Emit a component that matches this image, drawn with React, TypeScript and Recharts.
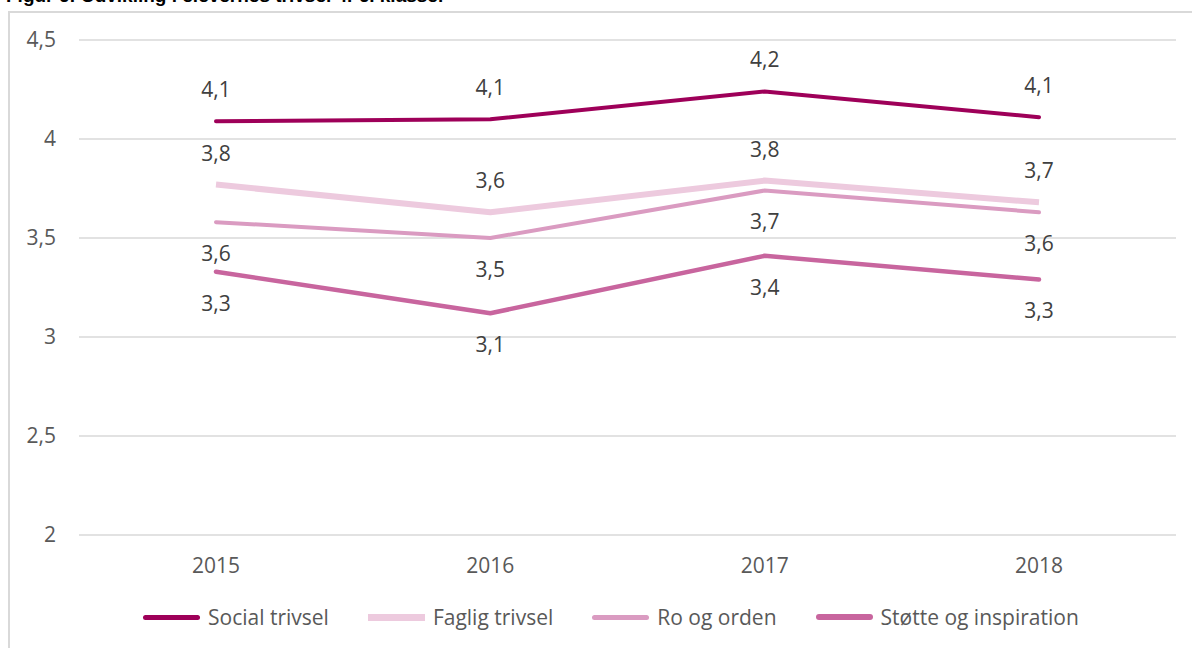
import React from 'react';
import { LineChart, Line, XAxis, YAxis, CartesianGrid, LabelList } from 'recharts';

const years = ['2015', '2016', '2017', '2018'];
const socialTrivsel = [4.09, 4.1, 4.24, 4.11];
const fagligTrivsel = [3.77, 3.63, 3.79, 3.68];
const roOgOrden = [3.58, 3.5, 3.74, 3.63];
const stotteOgInspiration = [3.33, 3.12, 3.41, 3.29];
const yTicks = [2, 2.5, 3, 3.5, 4, 4.5];

const FONT = '"Open Sans", "Noto Sans", sans-serif';

const series = [
  { key: 'social', name: 'Social trivsel', values: socialTrivsel, color: '#9E0059', width: 4, cap: 'round', label: 'top' },
  { key: 'faglig', name: 'Faglig trivsel', values: fagligTrivsel, color: '#EDCADE', width: 6, cap: 'butt', label: 'top' },
  { key: 'ro', name: 'Ro og orden', values: roOgOrden, color: '#DA9BC1', width: 4, cap: 'round', label: 'bottom' },
  { key: 'stotte', name: 'Støtte og inspiration', values: stotteOgInspiration, color: '#C8659E', width: 4.5, cap: 'round', label: 'bottom' },
];

const data = years.map((year, i) => {
  const row: Record<string, string | number> = { year };
  series.forEach(s => {
    row[s.key] = s.values[i];
  });
  return row;
});

const fmt = (v: number) => v.toFixed(1).replace('.', ',');

export default function App() {
  return (
    <div style={{ position: 'absolute', left: 0, top: 0, width: 1192, height: 648, overflow: 'hidden', background: '#fff' }}>
      {/* title, cut off at the top like the source */}
      <div style={{ position: 'absolute', left: 6, top: -15, fontFamily: '"Liberation Sans", Arial, sans-serif', fontWeight: 'bold', fontSize: 19, color: '#000', whiteSpace: 'nowrap' }}>
        Figur 6: Udvikling i elevernes trivsel 4.-6. klasser
      </div>
      {/* frame */}
      <div style={{ position: 'absolute', left: 8, top: 11, width: 1200, height: 660, border: '2px solid #D9D9D9', boxSizing: 'border-box' }} />
      <div style={{ position: 'absolute', left: 0, top: 0 }}>
        <LineChart width={1192} height={648} data={data} margin={{ top: 40, right: 16, bottom: 73, left: 19 }}>
          <CartesianGrid vertical={false} stroke="#D9D9D9" strokeWidth={1.5} />
          <XAxis
            dataKey="year"
            height={40}
            padding={{ left: 137, right: 137 }}
            axisLine={false}
            tickLine={false}
            tickMargin={17}
            tick={{ fill: '#595959', fontSize: 21, fontFamily: FONT }}
          />
          <YAxis
            width={60}
            domain={[2, 4.5]}
            ticks={yTicks}
            axisLine={false}
            tickLine={false}
            tickMargin={17}
            tickFormatter={(v: number) => String(v).replace('.', ',')}
            tick={{ fill: '#595959', fontSize: 21, fontFamily: FONT }}
          />
          {series.map(s => (
            <Line
              key={s.key}
              type="linear"
              dataKey={s.key}
              name={s.name}
              stroke={s.color}
              strokeWidth={s.width}
              strokeLinecap={s.cap as 'round' | 'butt'}
              strokeLinejoin="round"
              dot={false}
              activeDot={false}
              isAnimationActive={false}
            >
              <LabelList
                dataKey={s.key}
                position={s.label as 'top' | 'bottom'}
                offset={24}
                formatter={(v: number) => fmt(v)}
                style={{ fill: '#404040', fontSize: 21, fontFamily: FONT }}
              />
            </Line>
          ))}
        </LineChart>
      </div>
      {/* legend */}
      <div style={{ position: 'absolute', left: 143, top: 603, height: 28, display: 'flex', alignItems: 'center', fontFamily: FONT, fontSize: 21, color: '#595959' }}>
        {series.map((s, i) => (
          <div key={s.key} style={{ display: 'flex', alignItems: 'center', marginLeft: i === 0 ? 0 : 39 }}>
            <div style={{ width: 57, height: s.width + 1, background: s.color, borderRadius: s.cap === 'round' ? 3 : 0, marginRight: 8 }} />
            <span style={{ whiteSpace: 'nowrap' }}>{s.name}</span>
          </div>
        ))}
      </div>
    </div>
  );
}
